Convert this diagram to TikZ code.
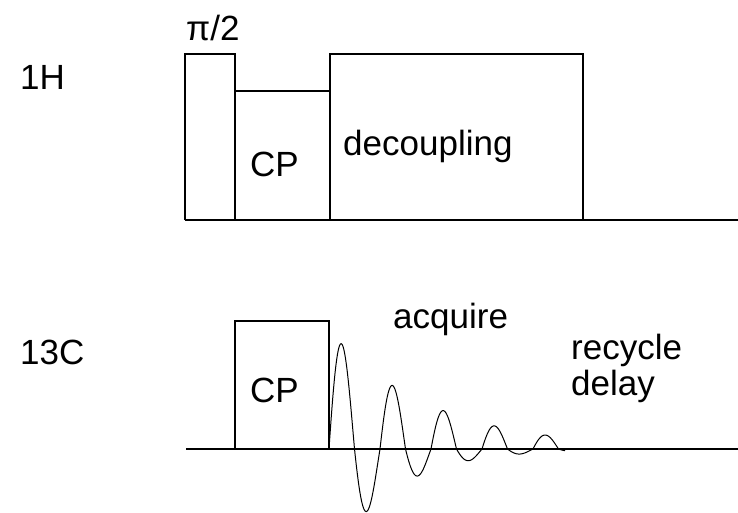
\documentclass[tikz,border=0pt]{standalone}
\usepackage{fontspec}
\setmainfont{Liberation Sans}
\begin{document}
\begin{tikzpicture}[x=1pt,y=-1pt,
  box/.style={line width=1.8pt, line join=miter},
  axis/.style={line width=1.8pt},
  fid/.style={line width=1pt, line join=round},
  lbl/.style={anchor=base west, inner sep=0pt, font=\fontsize{35}{38}\selectfont},
  declare function={
    sw(\t)=sin(7.0588*\t);
    ap(\t)=105*exp(-(\t-12.75)/101);
    an(\t)=62*exp(-(\t-38.25)/60.8);
    fid(\t)=449 - ap(\t)*max(sw(\t),0) - an(\t)*min(sw(\t),0);
  }]
\useasboundingbox (0,0) rectangle (738,513);
% 1H channel
\draw[axis] (185,220) -- (738,220);
\draw[line width=2.4pt] (534,220) -- (583,220);
\draw[box] (185,220) |- (235,54) -- (235,220);
\draw[box] (235,91) -- (330,91);
\draw[box] (330,220) |- (583,54) -- (583,220);
% 13C channel
\draw[axis] (186,449) -- (738,449);
\draw[box] (235,449) |- (329,321) -- (329,449);
\draw[fid] plot[domain=0:236, samples=400] ({329+\x}, {fid(\x)});
% labels
\node[lbl] (pi) at (186,41) {π/2};
\node[lbl] (h) at (20,90) {1H};
\node[lbl] (c) at (20,364) {13C};
\node[lbl] (cp1) at (250,177) {CP};
\node[lbl] (dec) at (343,156) {decoupling};
\node[lbl] (cp2) at (250,402) {CP};
\node[lbl] (acq) at (393,328) {acquire};
\node[lbl] (rec) at (571,359) {recycle};
\node[lbl] (del) at (571,395) {delay};
\end{tikzpicture}
\end{document}
